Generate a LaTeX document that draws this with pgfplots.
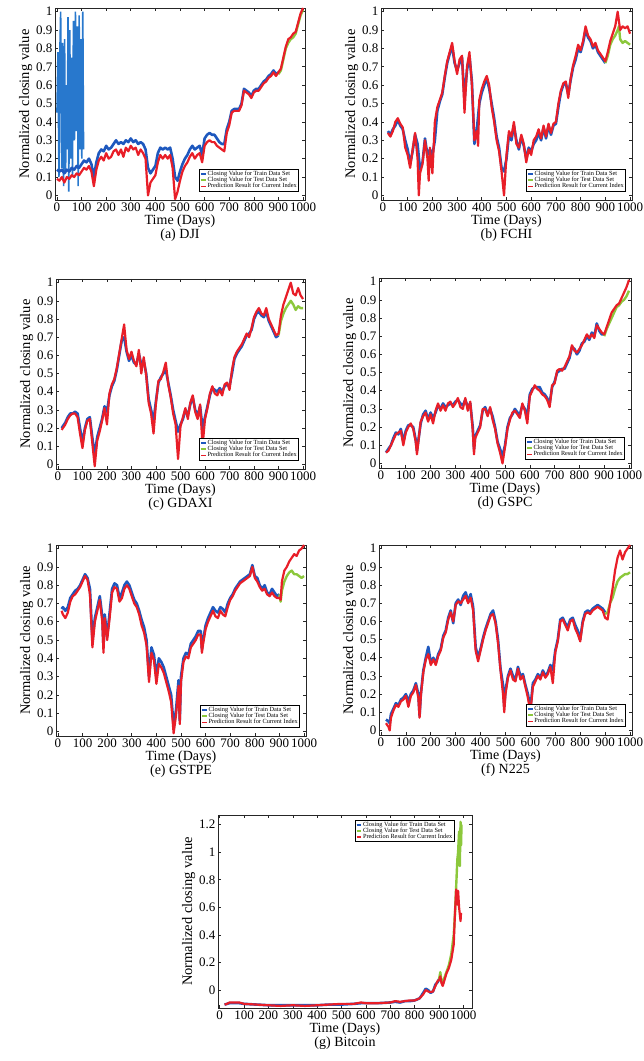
\documentclass[border=0pt]{standalone}
\usepackage{pgfplots}
\usepackage{pgfplotstable}
\pgfplotsset{compat=1.18}
\usepackage{fontspec}
\setmainfont{Liberation Serif}

\definecolor{cTrain}{RGB}{30,88,190}
\definecolor{cGlitch}{RGB}{40,120,205}
\definecolor{cTest}{RGB}{140,200,60}
\definecolor{cPred}{RGB}{232,30,40}

\pgfplotsset{
  panel/.style={
    scale only axis,
    xmin=-8, xmax=1008, ymin=-0.025, ymax=1.02,
    xtick={0,100,...,1000}, ytick={0,0.1,...,1},
    tick align=inside, major tick length=3pt,
    axis line style={line width=0.7pt, black!85},
    every tick/.style={black!85, line width=0.6pt},
    tick label style={font=\fontsize{13}{13}\selectfont},
    xticklabel style={yshift=1pt},
    yticklabel style={xshift=1pt},
    ylabel={Normalized closing value},
    ylabel style={font=\fontsize{14.5}{15}\selectfont, yshift=-3pt},
    xlabel style={align=center, font=\fontsize{14}{12.7}\selectfont, yshift=3pt},
    /pgf/number format/assume math mode=true,
    /pgf/number format/1000 sep={},
    legend style={font=\fontsize{6.3}{6.5}\selectfont, at={(0.975,0.045)}, anchor=south east,
      draw=black, line width=0.5pt, inner sep=0.8pt, row sep=-1.6pt,
      nodes={inner sep=0.9pt}},
    legend cell align=left,
    legend image code/.code={\draw[##1, line width=1.8pt] (0pt,0pt) -- (4.5pt,0pt);},
  },
  trainS/.style={color=cTrain, line width=2.6pt, line join=round},
  testS/.style={color=cTest, line width=2.4pt, line join=round},
  predS/.style={color=cPred, line width=2.2pt, line join=round},
}

% ---------------- (a) DJI
\pgfplotstableread{
x tr te pr
0 0.14 nan 0.09
10 0.13 nan 0.08
20 0.14 nan 0.10
30 0.12 nan 0.07
40 0.14 nan 0.10
50 0.13 nan 0.09
60 0.15 nan 0.11
70 0.14 nan 0.10
80 0.16 nan 0.12
90 0.15 nan 0.11
100 0.17 nan 0.13
110 0.19 nan 0.15
120 0.18 nan 0.14
130 0.20 nan 0.16
140 0.17 nan 0.13
150 0.10 nan 0.05
160 0.18 nan 0.14
170 0.23 nan 0.19
180 0.25 nan 0.21
190 0.24 nan 0.19
200 0.27 nan 0.23
210 0.25 nan 0.20
220 0.26 nan 0.21
230 0.28 nan 0.24
240 0.30 nan 0.25
250 0.28 nan 0.22
260 0.29 nan 0.25
270 0.28 nan 0.21
280 0.30 nan 0.26
290 0.29 nan 0.24
300 0.31 nan 0.27
310 0.29 nan 0.25
320 0.30 nan 0.26
330 0.28 nan 0.22
340 0.29 nan 0.25
350 0.28 nan 0.23
360 0.25 nan 0.20
370 0.15 nan 0.00
380 0.12 nan 0.07
390 0.14 nan 0.09
400 0.16 nan 0.11
410 0.23 nan 0.18
420 0.26 nan 0.22
430 0.25 nan 0.20
440 0.26 nan 0.22
450 0.25 nan 0.20
460 0.26 nan 0.22
470 0.20 nan 0.15
480 0.10 nan -0.02
490 0.08 nan 0.02
500 0.13 nan 0.08
510 0.17 nan 0.13
520 0.20 nan 0.16
530 0.22 nan 0.18
540 0.25 nan 0.21
550 0.27 nan 0.23
560 0.25 nan 0.20
570 0.26 nan 0.22
580 0.27 nan 0.23
590 0.22 nan 0.18
600 0.31 nan 0.27
610 0.33 nan 0.29
620 0.34 nan 0.30
630 0.33 nan 0.29
640 0.33 nan 0.29
650 0.31 nan 0.27
660 0.29 nan 0.26
670 0.28 nan 0.25
680 0.28 nan 0.24
690 0.36 nan 0.34
700 0.40 nan 0.38
710 0.46 nan 0.45
720 0.47 nan 0.46
730 0.47 nan 0.46
740 0.47 nan 0.46
750 0.50 nan 0.49
760 0.58 nan 0.57
770 0.57 nan 0.56
780 0.56 nan 0.55
790 0.54 nan 0.53
800 0.57 nan 0.56
810 0.58 nan 0.57
820 0.58 nan 0.57
830 0.60 nan 0.59
840 0.62 nan 0.61
850 0.63 nan 0.62
860 0.65 nan 0.64
870 0.66 nan 0.65
880 0.68 nan 0.67
890 0.66 nan 0.65
900 0.67 0.66 0.67
910 nan 0.68 0.69
920 nan 0.74 0.75
930 nan 0.80 0.81
940 nan 0.83 0.85
950 nan 0.85 0.86
960 nan 0.86 0.88
970 nan 0.88 0.89
980 nan 0.93 0.94
990 nan 0.98 0.99
1000 nan 1.01 1.02
}\tabA
\pgfplotstableread{
x y
0 0.45
4 0.78
8 0.10
12 0.80
15 1.00
19 0.15
23 0.83
27 0.05
31 0.85
35 0.12
39 0.60
42 0.25
45 0.97
48 0.02
52 0.90
56 0.20
60 0.75
63 0.10
67 0.95
71 0.30
75 1.00
79 0.35
83 0.92
86 0.05
90 0.98
94 0.25
97 0.85
101 0.20
105 1.00
108 0.25
}\tabAg

% ---------------- (b) FCHI
\pgfplotstableread{
x tr te pr
20 0.35 nan 0.34
30 0.33 nan 0.32
40 0.36 nan 0.35
50 0.38 nan 0.40
60 0.41 nan 0.42
70 0.38 nan 0.39
80 0.36 nan 0.37
90 0.30 nan 0.26
100 0.25 nan 0.22
110 0.17 nan 0.15
120 0.24 nan 0.25
130 0.33 nan 0.34
140 0.28 nan 0.20
145 nan nan 0.00
150 0.14 nan 0.12
160 0.18 nan 0.17
170 0.31 nan 0.30
180 0.22 nan 0.20
185 nan nan 0.08
190 0.25 nan 0.26
200 0.22 nan 0.12
210 0.30 nan 0.40
220 0.46 nan 0.48
230 0.51 nan 0.52
240 0.55 nan 0.56
250 0.64 nan 0.65
260 0.72 nan 0.73
270 0.77 nan 0.78
280 0.81 nan 0.83
290 0.72 nan 0.73
300 0.68 nan 0.66
310 0.72 nan 0.74
320 0.75 nan 0.76
330 0.52 nan 0.45
340 0.68 nan 0.70
350 0.76 nan 0.78
360 0.62 nan 0.60
370 0.28 nan 0.30
380 0.36 nan 0.35
385 nan nan 0.27
390 0.50 nan 0.52
400 0.56 nan 0.58
410 0.60 nan 0.62
420 0.64 nan 0.65
430 0.58 nan 0.60
440 0.50 nan 0.48
450 0.42 nan 0.40
460 0.32 nan 0.30
470 0.26 nan 0.24
480 0.15 nan 0.13
490 0.13 nan 0.00
500 0.20 nan 0.22
510 0.33 nan 0.35
520 0.30 nan 0.32
530 0.38 nan 0.40
540 0.30 nan 0.28
550 0.25 nan 0.26
560 0.32 nan 0.33
570 0.27 nan 0.28
580 0.20 nan 0.18
590 0.26 nan 0.25
600 0.24 nan 0.22
610 0.28 nan 0.30
620 0.30 nan 0.32
630 0.34 nan 0.36
640 0.30 nan 0.31
650 0.37 nan 0.38
660 0.31 nan 0.32
670 0.38 nan 0.39
680 0.33 nan 0.34
690 0.38 nan 0.39
700 0.39 nan 0.40
710 0.48 nan 0.50
720 0.56 nan 0.57
730 0.60 nan 0.61
740 0.61 nan 0.62
750 0.55 nan 0.53
760 0.63 nan 0.64
770 0.70 nan 0.71
780 0.74 nan 0.76
790 0.80 nan 0.82
800 0.78 nan 0.79
810 0.83 nan 0.84
820 0.90 nan 0.92
830 0.86 nan 0.87
840 0.84 nan 0.85
850 0.80 nan 0.81
860 0.82 nan 0.83
870 0.78 nan 0.79
880 0.76 nan 0.77
890 0.74 nan 0.75
900 0.72 0.72 0.73
910 nan 0.76 0.78
920 nan 0.82 0.84
930 nan 0.85 0.88
940 nan 0.87 0.92
950 nan 0.90 1.00
955 nan 0.92 0.95
960 nan 0.85 0.90
970 nan 0.83 0.92
980 nan 0.84 0.91
990 nan 0.83 0.92
1000 nan 0.82 0.88
}\tabB

% ---------------- (c) GDAXI
\pgfplotstableread{
x tr te pr
15 0.20 nan 0.19
20 0.21 nan 0.20
30 0.23 nan 0.22
40 0.26 nan 0.25
50 0.28 nan 0.27
60 0.28 nan 0.28
70 0.29 nan 0.28
80 0.28 nan 0.26
90 0.20 nan 0.17
100 0.12 nan 0.09
110 0.20 nan 0.19
120 0.25 nan 0.24
130 0.26 nan 0.25
140 0.15 nan 0.12
150 0.05 nan -0.01
160 0.15 nan 0.13
170 0.20 nan 0.18
180 0.25 nan 0.24
190 0.32 nan 0.31
200 0.29 nan 0.22
210 0.38 nan 0.39
220 0.43 nan 0.44
230 0.46 nan 0.47
240 0.52 nan 0.53
250 0.60 nan 0.61
260 0.68 nan 0.69
270 0.70 nan 0.77
280 0.62 nan 0.63
290 0.57 nan 0.58
300 0.60 nan 0.62
310 0.56 nan 0.57
320 0.55 nan 0.54
330 0.61 nan 0.63
340 0.55 nan 0.50
350 0.57 nan 0.59
360 0.50 nan 0.49
370 0.36 nan 0.34
380 0.30 nan 0.28
390 0.24 nan 0.17
400 0.35 nan 0.34
410 0.45 nan 0.46
420 0.48 nan 0.47
430 0.50 nan 0.51
440 0.52 nan 0.56
450 0.45 nan 0.44
460 0.38 nan 0.37
470 0.30 nan 0.28
480 0.24 nan 0.22
490 0.18 nan 0.03
500 0.22 nan 0.21
510 0.25 nan 0.26
520 0.30 nan 0.31
530 0.27 nan 0.25
540 0.33 nan 0.34
550 0.37 nan 0.38
560 0.30 nan 0.29
570 0.27 nan 0.25
580 0.32 nan 0.33
590 0.20 nan 0.10
600 0.26 nan 0.25
610 0.32 nan 0.31
620 0.38 nan 0.39
630 0.42 nan 0.43
640 0.41 nan 0.39
650 0.40 nan 0.38
660 0.42 nan 0.41
670 0.40 nan 0.38
680 0.43 nan 0.44
690 0.44 nan 0.45
700 0.43 nan 0.41
710 0.50 nan 0.52
720 0.58 nan 0.59
730 0.61 nan 0.62
740 0.63 nan 0.64
750 0.65 nan 0.66
760 0.68 nan 0.69
770 0.71 nan 0.72
780 0.72 nan 0.70
790 0.74 nan 0.75
800 0.80 nan 0.81
810 0.83 nan 0.84
820 0.84 nan 0.86
830 0.82 nan 0.83
840 0.81 nan 0.82
850 0.84 nan 0.86
860 0.79 nan 0.80
870 0.76 nan 0.77
880 0.73 nan 0.74
890 0.70 nan 0.71
900 0.71 0.71 0.72
910 nan 0.79 0.82
920 nan 0.83 0.88
930 nan 0.86 0.92
940 nan 0.88 0.96
950 nan 0.90 1.00
960 nan 0.88 0.94
970 nan 0.85 0.93
980 nan 0.87 0.97
990 nan 0.86 0.93
1000 nan 0.86 0.91
}\tabC

% ---------------- (d) GSPC
\pgfplotstableread{
x tr te pr
20 0.06 nan 0.06
30 0.08 nan 0.07
40 0.10 nan 0.10
50 0.14 nan 0.13
60 0.17 nan 0.16
70 0.16 nan 0.17
80 0.19 nan 0.18
90 0.12 nan 0.10
100 0.18 nan 0.17
110 0.21 nan 0.20
120 0.21 nan 0.22
130 0.20 nan 0.19
140 0.13 nan 0.12
145 0.07 nan 0.05
150 0.12 nan 0.11
160 0.22 nan 0.23
170 0.27 nan 0.26
180 0.29 nan 0.28
190 0.24 nan 0.23
200 0.28 nan 0.27
210 0.25 nan 0.22
220 0.28 nan 0.29
230 0.32 nan 0.33
240 0.30 nan 0.29
250 0.33 nan 0.32
260 0.31 nan 0.29
270 0.32 nan 0.33
280 0.33 nan 0.34
290 0.32 nan 0.31
300 0.34 nan 0.33
310 0.35 nan 0.36
320 0.33 nan 0.31
330 0.32 nan 0.30
340 0.35 nan 0.36
350 0.31 nan 0.29
360 0.33 nan 0.34
370 0.20 nan 0.18
375 0.08 nan 0.05
380 0.15 nan 0.14
390 0.18 nan 0.17
400 0.21 nan 0.20
410 0.29 nan 0.30
420 0.31 nan 0.30
430 0.27 nan 0.26
440 0.30 nan 0.31
450 0.26 nan 0.24
460 0.20 nan 0.19
470 0.12 nan 0.11
480 0.08 nan 0.06
490 0.04 nan 0.00
500 0.10 nan 0.09
510 0.20 nan 0.19
520 0.25 nan 0.24
530 0.27 nan 0.28
540 0.30 nan 0.29
550 0.28 nan 0.27
560 0.27 nan 0.25
570 0.32 nan 0.33
580 0.30 nan 0.29
590 0.26 nan 0.22
600 0.38 nan 0.37
610 0.41 nan 0.40
620 0.42 nan 0.43
630 0.42 nan 0.41
640 0.42 nan 0.40
650 0.39 nan 0.38
660 0.38 nan 0.37
670 0.36 nan 0.35
680 0.33 nan 0.31
690 0.42 nan 0.43
700 0.45 nan 0.44
710 0.50 nan 0.51
720 0.51 nan 0.52
730 0.52 nan 0.51
740 0.52 nan 0.53
750 0.55 nan 0.56
760 0.58 nan 0.59
770 0.64 nan 0.65
780 0.63 nan 0.62
790 0.60 nan 0.61
800 0.62 nan 0.63
810 0.66 nan 0.65
820 0.67 nan 0.68
830 0.70 nan 0.71
840 0.68 nan 0.69
850 0.72 nan 0.71
860 0.70 nan 0.69
870 0.77 nan 0.76
880 0.73 nan 0.74
890 0.71 nan 0.72
900 0.71 0.70 0.71
910 nan 0.74 0.75
920 nan 0.77 0.79
930 nan 0.80 0.83
940 nan 0.83 0.85
950 nan 0.86 0.87
960 nan 0.87 0.88
970 nan 0.89 0.91
980 nan 0.90 0.94
990 nan 0.92 0.97
1000 nan 0.95 1.01
}\tabD

% ---------------- (e) GSTPE
\pgfplotstableread{
x tr te pr
15 0.67 nan 0.66
20 0.68 nan 0.64
30 0.66 nan 0.62
40 0.68 nan 0.65
50 0.73 nan 0.71
60 0.75 nan 0.74
70 0.77 nan 0.75
80 0.78 nan 0.77
90 0.80 nan 0.79
100 0.83 nan 0.82
110 0.86 nan 0.85
120 0.84 nan 0.83
130 0.78 nan 0.75
140 0.50 nan 0.46
150 0.62 nan 0.60
160 0.68 nan 0.66
170 0.74 nan 0.72
180 0.63 nan 0.60
185 0.46 nan 0.43
190 0.64 nan 0.62
200 0.52 nan 0.50
210 0.65 nan 0.62
220 0.78 nan 0.76
230 0.81 nan 0.79
240 0.80 nan 0.78
250 0.73 nan 0.71
260 0.76 nan 0.73
270 0.80 nan 0.78
280 0.82 nan 0.80
290 0.80 nan 0.78
300 0.76 nan 0.74
310 0.72 nan 0.70
320 0.70 nan 0.68
330 0.66 nan 0.64
340 0.61 nan 0.58
350 0.57 nan 0.54
360 0.50 nan 0.47
370 0.30 nan 0.27
380 0.46 nan 0.43
390 0.42 nan 0.39
400 0.30 nan 0.26
410 0.40 nan 0.37
420 0.38 nan 0.35
430 0.35 nan 0.32
440 0.30 nan 0.27
450 0.25 nan 0.22
460 0.20 nan 0.16
470 0.03 nan -0.01
480 0.12 nan 0.09
490 0.28 nan 0.25
495 0.06 nan 0.04
500 0.30 nan 0.27
510 0.40 nan 0.38
520 0.43 nan 0.41
530 0.42 nan 0.40
540 0.48 nan 0.46
550 0.50 nan 0.48
560 0.52 nan 0.50
570 0.55 nan 0.53
580 0.55 nan 0.53
585 0.45 nan 0.43
590 0.50 nan 0.48
600 0.58 nan 0.56
610 0.62 nan 0.60
620 0.65 nan 0.63
630 0.68 nan 0.66
640 0.66 nan 0.63
650 0.65 nan 0.62
660 0.68 nan 0.66
670 0.67 nan 0.64
680 0.65 nan 0.63
690 0.70 nan 0.68
700 0.73 nan 0.72
710 0.75 nan 0.74
720 0.78 nan 0.77
730 0.80 nan 0.79
740 0.82 nan 0.81
750 0.83 nan 0.82
760 0.84 nan 0.83
770 0.85 nan 0.84
780 0.86 nan 0.85
790 0.91 nan 0.90
800 0.85 nan 0.84
810 0.84 nan 0.82
820 0.80 nan 0.79
830 0.78 nan 0.77
840 0.80 nan 0.78
850 0.76 nan 0.75
860 0.75 nan 0.74
870 0.78 nan 0.76
880 0.76 nan 0.74
890 0.74 nan 0.73
900 0.75 0.75 0.73
905 nan 0.71 0.72
910 nan 0.77 0.82
920 nan 0.82 0.88
930 nan 0.85 0.90
940 nan 0.87 0.93
950 nan 0.88 0.95
960 nan 0.86 0.97
970 nan 0.86 0.96
980 nan 0.85 0.99
990 nan 0.84 1.00
1000 nan 0.85 1.02
}\tabE

% ---------------- (f) N225
\pgfplotstableread{
x tr te pr
20 0.06 nan 0.04
30 0.05 nan 0.02
35 0.04 nan 0.00
40 0.09 nan 0.07
50 0.12 nan 0.11
60 0.15 nan 0.14
70 0.14 nan 0.13
80 0.17 nan 0.16
90 0.18 nan 0.17
100 0.20 nan 0.19
110 0.16 nan 0.13
120 0.20 nan 0.19
130 0.22 nan 0.21
140 0.26 nan 0.25
150 0.20 nan 0.18
155 0.08 nan 0.07
160 0.20 nan 0.19
170 0.33 nan 0.32
180 0.40 nan 0.39
190 0.46 nan 0.42
200 0.37 nan 0.36
210 0.40 nan 0.39
220 0.37 nan 0.36
230 0.42 nan 0.41
240 0.45 nan 0.44
250 0.52 nan 0.51
260 0.55 nan 0.54
270 0.62 nan 0.61
280 0.66 nan 0.65
290 0.59 nan 0.60
300 0.70 nan 0.69
310 0.72 nan 0.71
320 0.69 nan 0.70
330 0.74 nan 0.72
340 0.76 nan 0.74
350 0.71 nan 0.70
360 0.75 nan 0.73
370 0.68 nan 0.66
380 0.46 nan 0.44
390 0.40 nan 0.38
400 0.45 nan 0.44
410 0.51 nan 0.50
420 0.56 nan 0.55
430 0.60 nan 0.59
440 0.64 nan 0.63
450 0.66 nan 0.64
460 0.60 nan 0.59
470 0.50 nan 0.48
480 0.34 nan 0.33
490 0.25 nan 0.20
495 0.13 nan 0.10
500 0.22 nan 0.20
510 0.30 nan 0.29
520 0.34 nan 0.33
530 0.30 nan 0.28
540 0.28 nan 0.27
550 0.35 nan 0.34
560 0.30 nan 0.28
570 0.31 nan 0.30
580 0.25 nan 0.24
590 0.20 nan 0.18
600 0.12 nan 0.10
610 0.26 nan 0.24
620 0.28 nan 0.27
630 0.31 nan 0.30
640 0.29 nan 0.28
650 0.33 nan 0.32
660 0.30 nan 0.29
670 0.32 nan 0.31
680 0.36 nan 0.35
690 0.33 nan 0.26
700 0.44 nan 0.43
710 0.50 nan 0.49
720 0.61 nan 0.60
730 0.62 nan 0.61
740 0.59 nan 0.58
750 0.57 nan 0.55
760 0.61 nan 0.60
770 0.62 nan 0.61
780 0.58 nan 0.56
790 0.55 nan 0.53
800 0.50 nan 0.49
810 0.60 nan 0.59
820 0.65 nan 0.64
830 0.66 nan 0.65
840 0.65 nan 0.64
850 0.67 nan 0.66
860 0.68 nan 0.67
870 0.69 nan 0.68
880 0.68 nan 0.67
890 0.67 nan 0.66
900 0.65 0.64 0.62
910 nan 0.65 0.61
920 nan 0.70 0.70
930 nan 0.73 0.78
940 nan 0.78 0.88
950 nan 0.82 0.95
960 nan 0.84 0.99
970 nan 0.85 0.94
980 nan 0.86 0.98
990 nan 0.86 1.00
1000 nan 0.87 1.02
}\tabF

% ---------------- (g) Bitcoin
\pgfplotstableread{
x tr te pr
20 -0.105 nan -0.105
30 -0.100 nan -0.100
40 -0.095 nan -0.090
60 -0.095 nan -0.090
80 -0.095 nan -0.090
100 -0.100 nan -0.100
150 -0.105 nan -0.105
200 -0.110 nan -0.110
250 -0.110 nan -0.115
300 -0.110 nan -0.110
350 -0.110 nan -0.115
400 -0.110 nan -0.110
450 -0.105 nan -0.105
500 -0.105 nan -0.100
550 -0.100 nan -0.100
580 -0.095 nan -0.090
600 -0.095 nan -0.095
650 -0.095 nan -0.095
700 -0.090 nan -0.090
720 -0.085 nan -0.080
740 -0.090 nan -0.085
760 -0.080 nan -0.080
780 -0.080 nan -0.075
800 -0.075 nan -0.075
820 -0.060 nan -0.060
835 -0.020 nan -0.030
845 0.010 nan 0.000
855 0.000 nan -0.010
865 -0.020 nan -0.015
875 -0.010 nan -0.010
885 0.040 nan 0.030
895 0.060 nan 0.070
900 0.080 0.080 0.070
905 nan 0.130 0.100
910 nan 0.060 0.050
915 nan 0.040 0.030
920 nan 0.080 0.060
930 nan 0.130 0.120
940 nan 0.180 0.160
950 nan 0.260 0.220
960 nan 0.400 0.330
965 nan 0.550 0.550
970 nan 0.750 0.730
975 nan 0.950 0.620
978 nan 1.000 0.720
982 nan 1.150 0.600
985 nan 0.900 0.550
988 nan 1.220 0.500
990 nan 1.050 0.560
992 nan 1.200 nan
}\tabG

\begin{document}
\begin{tikzpicture}
\path[use as bounding box] (0pt,0pt) rectangle (644pt,1061pt);

% (a)
\begin{axis}[panel, at={(55pt,861pt)}, anchor=south west, width=250pt, height=192pt,
  xlabel={Time (Days)\\(a) DJI}]
  \addplot[color=cGlitch, line width=1.6pt, forget plot] table[x=x, y=y] {\tabAg};
  \addplot[trainS] table[x=x, y=tr] {\tabA};
  \addplot[testS] table[x=x, y=te] {\tabA};
  \addplot[predS] table[x=x, y=pr] {\tabA};
  \legend{Closing Value for Train Data Set, Closing Value for Test Data Set, Prediction Result for Current Index}
\end{axis}

% (b)
\begin{axis}[panel, at={(381pt,861pt)}, anchor=south west, width=251pt, height=192pt,
  xlabel={Time (Days)\\(b) FCHI}]
  \addplot[trainS] table[x=x, y=tr] {\tabB};
  \addplot[testS] table[x=x, y=te] {\tabB};
  \addplot[predS] table[x=x, y=pr] {\tabB};
  \legend{Closing Value for Train Data Set, Closing Value for Test Data Set, Prediction Result for Current Index}
\end{axis}

% (c)
\begin{axis}[panel, at={(56pt,592pt)}, anchor=south west, width=249pt, height=190pt,
  xlabel={Time (Days)\\(c) GDAXI}]
  \addplot[trainS] table[x=x, y=tr] {\tabC};
  \addplot[testS] table[x=x, y=te] {\tabC};
  \addplot[predS] table[x=x, y=pr] {\tabC};
  \legend{Closing Value for Train Data Set, Closing Value for Test Data Set, Prediction Result for Current Index}
\end{axis}

% (d)
\begin{axis}[panel, at={(379pt,593pt)}, anchor=south west, width=252pt, height=190pt,
  xlabel={Time (Days)\\(d) GSPC}]
  \addplot[trainS] table[x=x, y=tr] {\tabD};
  \addplot[testS] table[x=x, y=te] {\tabD};
  \addplot[predS] table[x=x, y=pr] {\tabD};
  \legend{Closing Value for Train Data Set, Closing Value for Test Data Set, Prediction Result for Current Index}
\end{axis}

% (e)
\begin{axis}[panel, at={(56pt,325pt)}, anchor=south west, width=250pt, height=191pt,
  xlabel={Time (Days)\\(e) GSTPE}]
  \addplot[trainS] table[x=x, y=tr] {\tabE};
  \addplot[testS] table[x=x, y=te] {\tabE};
  \addplot[predS] table[x=x, y=pr] {\tabE};
  \legend{Closing Value for Train Data Set, Closing Value for Test Data Set, Prediction Result for Current Index}
\end{axis}

% (f)
\begin{axis}[panel, at={(379pt,326pt)}, anchor=south west, width=253pt, height=190pt,
  xlabel={Time (Days)\\(f) N225}]
  \addplot[trainS] table[x=x, y=tr] {\tabF};
  \addplot[testS] table[x=x, y=te] {\tabF};
  \addplot[predS] table[x=x, y=pr] {\tabF};
  \legend{Closing Value for Train Data Set, Closing Value for Test Data Set, Prediction Result for Current Index}
\end{axis}

% (g)
\begin{axis}[panel, at={(218pt,53pt)}, anchor=south west, width=254pt, height=193pt,
  xmin=-7, xmax=1035, ymin=-0.13, ymax=1.27, ytick={0,0.2,...,1.2},
  legend style={at={(0.93,0.975)}, anchor=north east},
  xlabel={Time (Days)\\(g) Bitcoin}]
  \addplot[trainS] table[x=x, y=tr] {\tabG};
  \addplot[testS] table[x=x, y=te] {\tabG};
  \addplot[predS] table[x=x, y=pr] {\tabG};
  \legend{Closing Value for Train Data Set, Closing Value for Test Data Set, Prediction Result for Current Index}
\end{axis}
\end{tikzpicture}
\end{document}
